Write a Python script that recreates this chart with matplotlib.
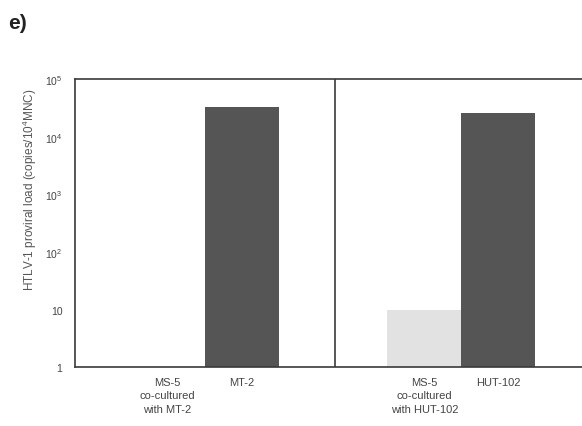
import numpy as np
import matplotlib
matplotlib.use('Agg')
import matplotlib.pyplot as plt

plt.rcParams['font.family'] = ['Liberation Sans', 'DejaVu Sans']
plt.rcParams['mathtext.fontset'] = 'custom'
plt.rcParams['mathtext.rm'] = 'Liberation Sans'
plt.rcParams['mathtext.default'] = 'rm'

# data (0 = nothing detected)
categories = ['MS-5\nco-cultured\nwith MT-2', 'MT-2',
              'MS-5\nco-cultured\nwith HUT-102', 'HUT-102']
loads = [0, 3.3e4, 10, 2.6e4]
bar_colors = ['#e2e2e2', '#555555', '#e2e2e2', '#555555']
ytick_vals = [1, 10, 1e2, 1e3, 1e4, 1e5]
ytick_text = ['1', '10', '$10^{2}$', '$10^{3}$', '$10^{4}$', '$10^{5}$']

xpos = [1.25, 2.25, 4.72, 5.72]
divider = 3.51
ink = '#3a3a3a'

fig = plt.figure(figsize=(5.82, 4.27), dpi=100)
ax = fig.add_axes([0.129, 0.138, 0.871, 0.674])

ax.set_yscale('log')
ax.bar(xpos, loads, width=1.0, color=bar_colors, edgecolor='none')
ax.axvline(divider, color=ink, lw=1.2)

ax.set_xlim(0, 6.85)
ax.set_ylim(1, 1e5)
ax.set_yticks(ytick_vals)
ax.set_yticklabels(ytick_text)
ax.yaxis.set_minor_locator(plt.NullLocator())
ax.set_xticks(xpos)
ax.set_xticklabels(categories, fontsize=8, color='#444444', linespacing=1.45)
ax.tick_params(axis='both', length=0, colors='#444444')
ax.tick_params(axis='y', labelsize=7.5, pad=9)
ax.tick_params(axis='x', pad=7)

for s in ['left', 'bottom', 'top']:
    ax.spines[s].set_color(ink)
    ax.spines[s].set_linewidth(1.2)
ax.spines['right'].set_visible(False)

ax.set_ylabel('HTLV-1 proviral load (copies/$10^{4}$MNC)', fontsize=8.5, color='#555555')
ax.yaxis.set_label_coords(-0.072, 0.62)

fig.text(0.014, 0.945, 'e)', fontsize=15, fontweight='bold', color='#222222', va='center')

fig.savefig('out.png', dpi=100)
